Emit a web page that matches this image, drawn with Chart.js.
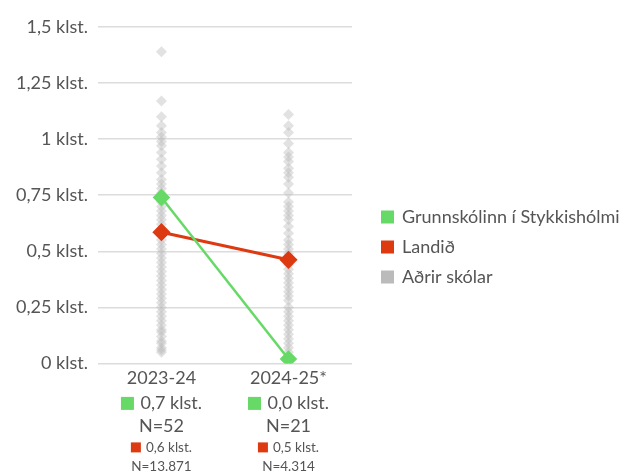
<!DOCTYPE html>
<html>
<head>
<meta charset="utf-8">
<script src="https://cdn.jsdelivr.net/npm/chart.js@4"></script>
<style>
  html, body { margin: 0; padding: 0; background: #fff; }
  #wrap { width: 642px; height: 474px; }
</style>
</head>
<body>
<div id="wrap"><canvas id="chart"></canvas></div>
<script>
// Data
const categories = ['2023-24', '2024-25*'];
const schoolValues = [0.74, 0.02]; // Grunnskólinn í Stykkishólmi
const countryValues = [0.585, 0.462]; // Landið
const schoolN = ['52', '21'];
const countryN = ['13.871', '4.314'];
const otherSchools2023 = [1.39, 1.17, 1.10, 1.06, 1.03, 1.01, 0.99, 0.97, 0.94, 0.91, 0.88, 0.85, 0.82, 0.80,
  0.78, 0.76, 0.72, 0.70, 0.68, 0.66, 0.64, 0.62, 0.60, 0.57, 0.55, 0.53, 0.51, 0.49, 0.47, 0.45, 0.43,
  0.41, 0.39, 0.37, 0.35, 0.33, 0.31, 0.29, 0.27, 0.25, 0.23, 0.21, 0.19, 0.17, 0.15, 0.14, 0.12, 0.10,
  0.09, 0.07, 0.06, 0.05];
const otherSchools2024 = [1.11, 1.06, 1.03, 0.98, 0.94, 0.92, 0.90, 0.87, 0.85, 0.83, 0.80, 0.76, 0.72,
  0.70, 0.68, 0.66, 0.64, 0.61, 0.58, 0.55, 0.53, 0.51, 0.49, 0.44, 0.42, 0.40, 0.38, 0.36, 0.34, 0.32,
  0.30, 0.28, 0.25, 0.23, 0.21, 0.19, 0.17, 0.15, 0.13, 0.11, 0.09, 0.07, 0.05, 0.03];
const yTicks = [0, 0.25, 0.5, 0.75, 1, 1.25, 1.5];

const green = '#66d966';
const red = '#dd3a12';
const grey = '#bbbbbb';
const fontFamily = 'Lato, "Noto Sans", sans-serif';
const textColor = '#555';

function klst(v, digits) {
  const s = digits === undefined ? String(v) : v.toFixed(digits);
  return s.replace('.', ',') + ' klst.';
}

const otherPoints = [];
otherSchools2023.forEach(v => otherPoints.push({ x: categories[0], y: v }));
otherSchools2024.forEach(v => otherPoints.push({ x: categories[1], y: v }));

// draws the value and N lines under each category label
const subLabels = {
  id: 'subLabels',
  afterDraw(chart) {
    const ctx = chart.ctx;
    const xScale = chart.scales.x;
    const base = chart.chartArea.bottom;
    ctx.save();
    ctx.textBaseline = 'middle';
    categories.forEach((cat, i) => {
      const cx = xScale.getPixelForValue(i);
      const rows = [
        { text: klst(schoolValues[i], 1), color: green, size: 18, sq: 13, y: base + 40 },
        { text: 'N=' + schoolN[i], size: 18, y: base + 63 },
        { text: klst(countryValues[i], 1), color: red, size: 13.5, sq: 10, y: base + 84 },
        { text: 'N=' + countryN[i], size: 13.5, y: base + 103 }
      ];
      rows.forEach(r => {
        ctx.font = r.size + 'px ' + fontFamily;
        ctx.fillStyle = textColor;
        const tw = ctx.measureText(r.text).width;
        if (r.color) {
          const gap = r.sq * 0.5;
          const total = r.sq + gap + tw;
          const left = cx - total / 2;
          ctx.fillStyle = r.color;
          ctx.fillRect(left, r.y - r.sq / 2, r.sq, r.sq);
          ctx.fillStyle = textColor;
          ctx.textAlign = 'left';
          ctx.fillText(r.text, left + r.sq + gap, r.y);
        } else {
          ctx.textAlign = 'center';
          ctx.fillText(r.text, cx, r.y);
        }
      });
    });
    ctx.restore();
  }
};

// legend to the right of the plot
const sideLegend = {
  id: 'sideLegend',
  afterDraw(chart) {
    const ctx = chart.ctx;
    const colors = [green, red, grey];
    const x = chart.chartArea.right + 29;
    ctx.save();
    ctx.font = '18px ' + fontFamily;
    ctx.textBaseline = 'middle';
    ctx.textAlign = 'left';
    chart.data.datasets.forEach((ds, i) => {
      const y = 217 + i * 30;
      ctx.fillStyle = colors[i];
      ctx.fillRect(x, y - 6.5, 13, 13);
      ctx.fillStyle = textColor;
      ctx.fillText(ds.label, x + 21, y);
    });
    ctx.restore();
  }
};

const ctx = document.getElementById('chart').getContext('2d');
new Chart(ctx, {
  type: 'line',
  data: {
    labels: categories,
    datasets: [
      {
        label: 'Grunnskólinn í Stykkishólmi',
        data: schoolValues,
        borderColor: green,
        backgroundColor: green,
        borderWidth: 2.5,
        pointStyle: 'rectRot',
        pointRadius: 7,
        pointHoverRadius: 7
      },
      {
        label: 'Landið',
        data: countryValues,
        borderColor: red,
        backgroundColor: red,
        borderWidth: 3,
        pointStyle: 'rectRot',
        pointRadius: 7,
        pointHoverRadius: 7
      },
      {
        label: 'Aðrir skólar',
        data: otherPoints,
        showLine: false,
        borderColor: 'rgba(0,0,0,0)',
        backgroundColor: 'rgba(185,185,185,0.42)',
        pointStyle: 'rectRot',
        pointRadius: 5.5,
        pointHoverRadius: 5.5
      }
    ]
  },
  options: {
    responsive: true,
    maintainAspectRatio: false,
    animation: false,
    layout: { padding: { top: 27, right: 290, bottom: 89, left: 6 } },
    plugins: {
      tooltip: { enabled: false },
      legend: { display: false }
    },
    scales: {
      x: {
        offset: true,
        grid: { display: false },
        border: { display: false },
        ticks: {
          font: { family: fontFamily, size: 18 },
          color: textColor,
          padding: -4
        }
      },
      y: {
        min: 0,
        max: 1.5,
        afterBuildTicks: function(axis) {
          axis.ticks = yTicks.map(v => ({ value: v }));
        },
        grid: { color: '#dcdcdc', lineWidth: 1.5, drawTicks: false },
        border: { display: false },
        ticks: {
          font: { family: fontFamily, size: 18 },
          color: textColor,
          padding: 10,
          callback: function(value) { return klst(value); }
        }
      }
    }
  },
  plugins: [subLabels, sideLegend]
});
</script>
</body>
</html>
